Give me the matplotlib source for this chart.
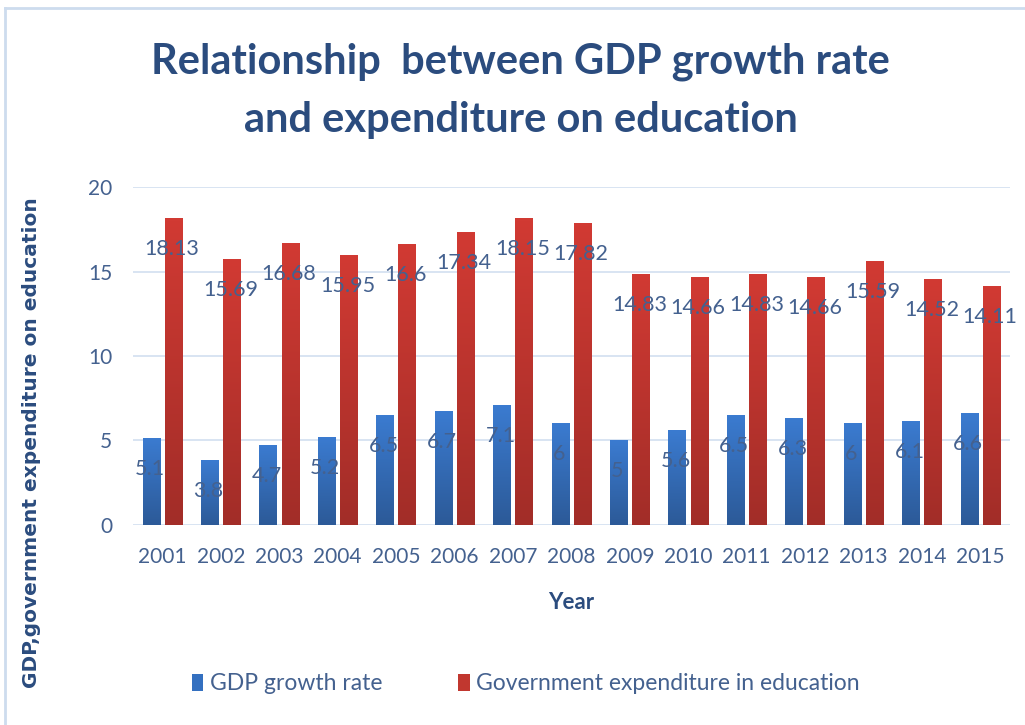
import matplotlib
matplotlib.use("Agg")
from matplotlib import pyplot as plt
from matplotlib.colors import LinearSegmentedColormap
import numpy as np

# values
years = ['2001', '2002', '2003', '2004', '2005', '2006', '2007', '2008',
         '2009', '2010', '2011', '2012', '2013', '2014', '2015']
gdp_growth = [5.1, 3.8, 4.7, 5.2, 6.5, 6.7, 7.1, 6, 5, 5.6, 6.5, 6.3, 6, 6.1, 6.6]
edu_spend = [18.13, 15.69, 16.68, 15.95, 16.6, 17.34, 18.15, 17.82,
             14.83, 14.66, 14.83, 14.66, 15.59, 14.52, 14.11]

title_col = '#2b4c7e'
text_col = '#44618f'
blue = '#3470c0'
red = '#c1372f'
blue_cm = LinearSegmentedColormap.from_list('b', ['#2c5a98', '#3b7bd0'])
red_cm = LinearSegmentedColormap.from_list('r', ['#a22d28', '#d13a33'])

plt.rcParams['font.family'] = ['Lato', 'DejaVu Sans']

fig = plt.figure(figsize=(10.25, 7.25), dpi=100)
ax = fig.add_axes([0.130, 0.276, 0.855, 0.466])

x = np.arange(len(years))
w = 0.30
off = 0.19
b1 = ax.bar(x - off, gdp_growth, w, color=blue, label='GDP growth rate', zorder=3)
b2 = ax.bar(x + off, edu_spend, w, color=red, label='Government expenditure in education', zorder=3)

# vertical gradient fill like the original
grad = np.linspace(0, 1, 100).reshape(-1, 1)
for bars, cm in [(b1, blue_cm), (b2, red_cm)]:
    for r in bars:
        x0, h = r.get_x(), r.get_height()
        ax.imshow(grad, extent=[x0, x0 + r.get_width(), 0, h], origin='lower',
                  cmap=cm, aspect='auto', zorder=3.5)

for bars, vals in [(b1, gdp_growth), (b2, edu_spend)]:
    for r, v in zip(bars, vals):
        ax.annotate('{:g}'.format(v), (r.get_x() + r.get_width() / 2, v),
                    xytext=(-1, -22), textcoords='offset points',
                    ha='center', va='center', fontsize=15.5, color=text_col, zorder=4)

ax.set_ylim(0, 20)
ax.set_xlim(-0.5, len(years) - 0.5)
ax.set_yticks([0, 5, 10, 15, 20])
ax.set_xticks(x)
ax.set_xticklabels(years)
ax.tick_params(axis='both', length=0, labelsize=15, labelcolor=text_col)
ax.tick_params(axis='x', pad=16)
ax.tick_params(axis='y', pad=15)
ax.grid(axis='y', color='#d6e2f1', linewidth=1.3, zorder=0)
for s in ax.spines.values():
    s.set_visible(False)

ax.set_xlabel('Year', fontsize=16, fontweight='bold', color=title_col, labelpad=18)

fig.text(0.031, 0.39, 'GDP,government expenditure on education', rotation=90,
         ha='center', va='center', fontsize=14.5, fontweight='bold', color=title_col,
         family='DejaVu Sans')

fig.text(0.508, 0.915, 'Relationship  between GDP growth rate', ha='center', va='center',
         fontsize=30, fontweight='bold', color=title_col)
fig.text(0.508, 0.834, 'and expenditure on education', ha='center', va='center',
         fontsize=30, fontweight='bold', color=title_col)

fig.legend(handles=[b1, b2], loc='center', bbox_to_anchor=(0.513, 0.057), ncol=2,
           frameon=False, fontsize=16.5, labelcolor=text_col, handlelength=0.5,
           handleheight=0.75, handletextpad=0.3, columnspacing=3.3)

# light frame around the chart
fig.add_artist(plt.Line2D([0.005, 1.0], [0.989, 0.989], color='#cddcee', linewidth=2, transform=fig.transFigure))
fig.add_artist(plt.Line2D([0.005, 0.005], [0.0, 0.989], color='#cddcee', linewidth=2, transform=fig.transFigure))

fig.savefig('out.png', dpi=100)
